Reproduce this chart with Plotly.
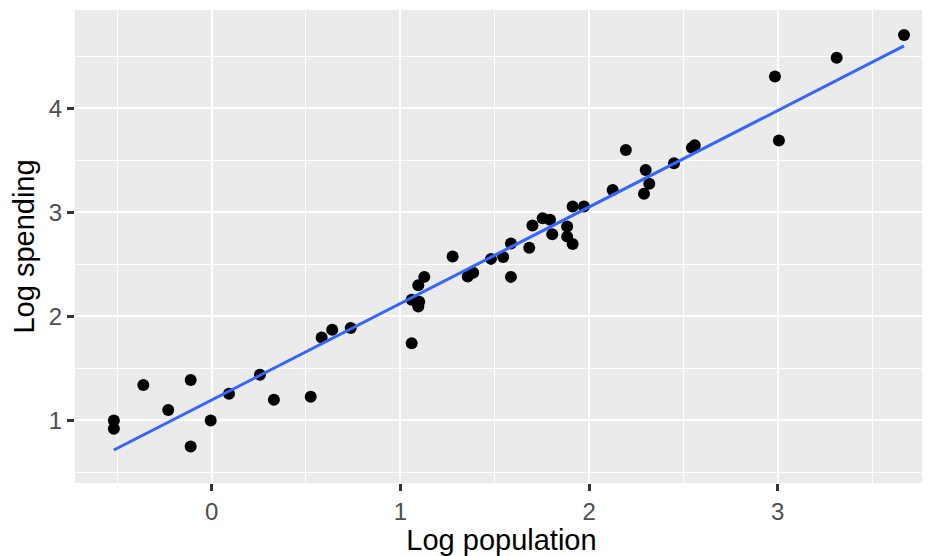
import numpy as np
import plotly.graph_objects as go

# Log population vs log spending
log_pop = [-0.518, -0.518, -0.362, -0.23, -0.111, -0.111, -0.005, 0.092, 0.256, 0.33,
           0.525, 0.583, 0.639, 0.737, 1.06, 1.06, 1.095, 1.10, 1.095, 1.127,
           1.277, 1.357, 1.386, 1.48, 1.545, 1.586, 1.586, 1.683, 1.70, 1.754,
           1.793, 1.805, 1.884, 1.884, 1.913, 1.913, 1.973, 2.125, 2.195, 2.291,
           2.30, 2.319, 2.45, 2.545, 2.56, 2.985, 3.006, 3.312, 3.669]
log_spend = [1.0, 0.92, 1.34, 1.10, 1.39, 0.75, 1.0, 1.256, 1.44, 1.20,
             1.228, 1.797, 1.871, 1.888, 1.743, 2.16, 2.095, 2.14, 2.30, 2.38,
             2.575, 2.383, 2.42, 2.553, 2.57, 2.70, 2.38, 2.66, 2.873, 2.944,
             2.928, 2.79, 2.864, 2.767, 2.695, 3.056, 3.056, 3.216, 3.60, 3.178,
             3.408, 3.274, 3.473, 3.62, 3.645, 4.305, 3.69, 4.487, 4.705]

x_ticks = [0, 1, 2, 3]
y_ticks = [1, 2, 3, 4]

# linear fit, like geom_smooth(method = "lm", se = FALSE)
slope, intercept = np.polyfit(log_pop, log_spend, 1)
fit_x = np.array([min(log_pop), max(log_pop)])
fit_y = intercept + slope * fit_x

fig = go.Figure()
fig.add_trace(go.Scatter(x=log_pop, y=log_spend, mode='markers',
                         marker=dict(color='black', size=12), showlegend=False))
fig.add_trace(go.Scatter(x=fit_x, y=fit_y, mode='lines',
                         line=dict(color='#3366FF', width=3), showlegend=False))

axis_style = dict(showgrid=True, gridcolor='white', gridwidth=2, zeroline=False,
                  showline=False, ticks='outside', ticklen=7, tickwidth=2.5,
                  tickcolor='#333333', tickfont=dict(size=24, color='#4D4D4D'),
                  automargin=False,
                  minor=dict(showgrid=True, gridcolor='white', gridwidth=1, dtick=0.5))

fig.update_xaxes(axis_style, range=[-0.724, 3.796], tickvals=x_ticks,
                 title=dict(text='Log population', font=dict(size=29, color='black'), standoff=6))
fig.update_yaxes(axis_style, range=[0.399, 4.945], tickvals=y_ticks,
                 title=dict(text='Log spending', font=dict(size=29, color='black'), standoff=10))

# page body has an 8px margin, so the figure is a little smaller than the window
fig.update_layout(width=922, height=548, plot_bgcolor='#EBEBEB', paper_bgcolor='white',
                  font=dict(family='Liberation Sans, Arial, sans-serif'),
                  margin=dict(l=67, r=2, t=2, b=73))

fig.write_html("out.html")
